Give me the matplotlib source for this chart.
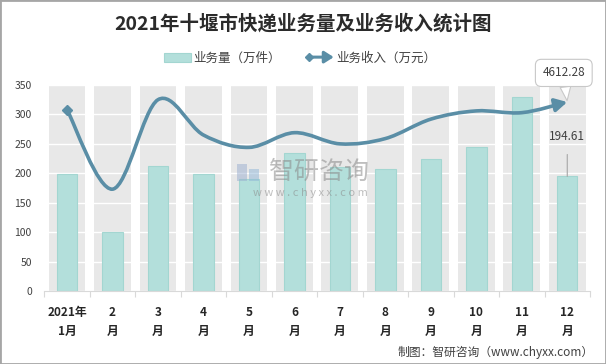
import matplotlib
matplotlib.use('Agg')
import matplotlib.pyplot as plt
import numpy as np
from matplotlib.path import Path
from matplotlib.patches import FancyArrowPatch, Patch, Rectangle
from matplotlib.legend_handler import HandlerBase
from matplotlib.lines import Line2D

plt.rcParams['font.family'] = ['Noto Sans CJK SC', 'DejaVu Sans']

# ---------------- data ----------------
categories = ['2021年\n1月', '2\n月', '3\n月', '4\n月', '5\n月', '6\n月',
              '7\n月', '8\n月', '9\n月', '10\n月', '11\n月', '12\n月']
volume = [198, 101, 213, 198, 190, 234, 210, 208, 225, 245, 329, 194.61]      # 业务量（万件）
revenue_plot = [308, 173, 325, 265, 244, 269, 250, 259, 292, 306, 303, 321]  # 业务收入 (plotted scale)
revenue_last_label = '4612.28'
volume_last_label = '194.61'
yticks = [0, 50, 100, 150, 200, 250, 300, 350]

title = '2021年十堰市快递业务量及业务收入统计图'
bar_name = '业务量（万件）'
line_name = '业务收入（万元）'
source = '制图：智研咨询（www.chyxx.com）'

# ---------------- style ----------------
BAR_C = '#b3dfdb'
BAR_EC = '#a3d6d1'
LINE_C = '#5a8ea6'
BAND_C = '#e8e8e8'
TXT_C = '#404040'

W, H = 606, 364
fig = plt.figure(figsize=(W / 100, H / 100), dpi=100)
ax = fig.add_axes([44.3 / W, 1 - 291 / H, (590 - 44.3) / W, (291 - 85) / H])

x = np.arange(len(categories))
ymax = yticks[-1]

# background bands per category
ax.bar(x, [ymax] * len(x), width=0.81, color=BAND_C, zorder=0.1, linewidth=0)
# bars
ax.bar(x, volume, width=0.45, color=BAR_C, edgecolor=BAR_EC, linewidth=0.8, zorder=2)


def smooth_path(xs, ys):
    pts = np.column_stack([xs, ys]).astype(float)
    n = len(pts)
    verts = [pts[0]]
    codes = [Path.MOVETO]
    for i in range(n - 1):
        p0 = pts[i - 1] if i > 0 else pts[i]
        p1 = pts[i]
        p2 = pts[i + 1]
        p3 = pts[i + 2] if i + 2 < n else pts[i + 1]
        c1 = p1 + (p2 - p0) / 6.0
        c2 = p2 - (p3 - p1) / 6.0
        verts += [c1, c2, p2]
        codes += [Path.CURVE4] * 3
    return Path(verts, codes)


arrow = FancyArrowPatch(path=smooth_path(x, revenue_plot),
                        arrowstyle='-|>,head_length=0.55,head_width=0.3',
                        mutation_scale=13, color=LINE_C, lw=2.6,
                        capstyle='round', joinstyle='round', zorder=3)
ax.add_patch(arrow)
ax.plot([x[0]], [revenue_plot[0]], marker='D', ms=5.5, color=LINE_C, zorder=3.5)

ax.set_xlim(-0.5, len(x) - 0.5)
ax.set_ylim(0, ymax)
ax.set_yticks(yticks)
ax.set_yticklabels([str(v) for v in yticks], fontsize=7.5, color=TXT_C)
ax.set_xticks(x)
ax.set_xticklabels(categories, fontsize=8.5, fontweight='bold', color='#262626',
                   linespacing=1.6)
ax.set_xticks(np.arange(len(x) + 1) - 0.5, minor=True)
ax.tick_params(axis='x', which='major', length=0, pad=11)
ax.tick_params(axis='x', which='minor', length=4, color='#d9d9d9', width=0.8)
ax.tick_params(axis='y', length=0, pad=9)
for s in ['left', 'right', 'top']:
    ax.spines[s].set_visible(False)
ax.spines['bottom'].set_color('#d9d9d9')
ax.spines['bottom'].set_linewidth(0.8)
ax.yaxis.grid(True, color='white', lw=1.0)
ax.set_axisbelow(True)
ax.patch.set_alpha(0)

# callout for last revenue
ax.annotate(revenue_last_label, xy=(x[-1], revenue_plot[-1]), xytext=(-2.5, 21),
            textcoords='offset points', ha='center', va='center', fontsize=8.5,
            color=TXT_C, annotation_clip=False, zorder=5,
            bbox=dict(boxstyle='round,pad=0.6,rounding_size=0.5', fc='white', ec='#c8c8c8', lw=0.8),
            arrowprops=dict(arrowstyle='wedge,tail_width=0.9', fc='white', ec='#c8c8c8',
                            lw=0.8, shrinkA=0, shrinkB=1))

# label for last bar
ax.annotate(volume_last_label, xy=(x[-1], volume[-1]), xytext=(0, 28.5),
            textcoords='offset points', ha='center', va='center', fontsize=8.5,
            color=TXT_C, zorder=5,
            arrowprops=dict(arrowstyle='-', color='#a6a6a6', lw=0.8, shrinkA=6, shrinkB=0))


# legend
class HandlerArrow(HandlerBase):
    def create_artists(self, legend, orig_handle, xdescent, ydescent, width, height,
                       fontsize, trans):
        y = height / 2 - ydescent
        x0 = -xdescent
        arr = FancyArrowPatch((x0 + 2, y), (x0 + width, y),
                              arrowstyle='-|>,head_length=0.55,head_width=0.35',
                              mutation_scale=10, color=LINE_C, lw=2.2,
                              shrinkA=0, shrinkB=0, transform=trans)
        m = Line2D([x0 + 2], [y], marker='D', ms=4.5, color=LINE_C, lw=0, transform=trans)
        return [arr, m]


bar_handle = Patch(facecolor=BAR_C, edgecolor=BAR_EC, lw=0.8)
line_handle = Line2D([], [], color=LINE_C)
fig.legend([bar_handle, line_handle], [bar_name, line_name], ncol=2,
           loc='center', bbox_to_anchor=(300 / W, 1 - 58 / H), frameon=False,
           fontsize=9, handlelength=2.2, handletextpad=0.2, columnspacing=2.0,
           labelcolor=TXT_C, handler_map={line_handle: HandlerArrow()})

# title
fig.text(0.5, 1 - 24 / H, title, ha='center', va='center', fontsize=14,
         fontweight='bold', color='#2b2b2b')

# watermark
fig.text(319 / W, 1 - 172 / H, '智研咨询', ha='center', va='center', fontsize=18,
         color='#8a8a8a', alpha=0.55, zorder=10)
fig.text(310 / W, 1 - 193 / H, 'w w w . c h y x x . c o m', ha='center', va='center',
         fontsize=8, color='#8a8a8a', alpha=0.55, zorder=10)
fig.add_artist(Rectangle((237 / W, 1 - 181 / H), 10 / W, 17 / H, transform=fig.transFigure,
                         fc='#9aaed0', ec='none', alpha=0.5, zorder=10))
fig.add_artist(Rectangle((249 / W, 1 - 181 / H), 10 / W, 12 / H, transform=fig.transFigure,
                         fc='#8fb6d8', ec='none', alpha=0.5, zorder=10))

# source
fig.text(594 / W, 1 - 352 / H, source, ha='right', va='center', fontsize=8.5, color=TXT_C)

# border
fig.add_artist(Rectangle((0, 0), 1, 1, transform=fig.transFigure, fill=False,
                         ec='#a6a6a6', lw=2))

fig.savefig('out.png', dpi=100)
